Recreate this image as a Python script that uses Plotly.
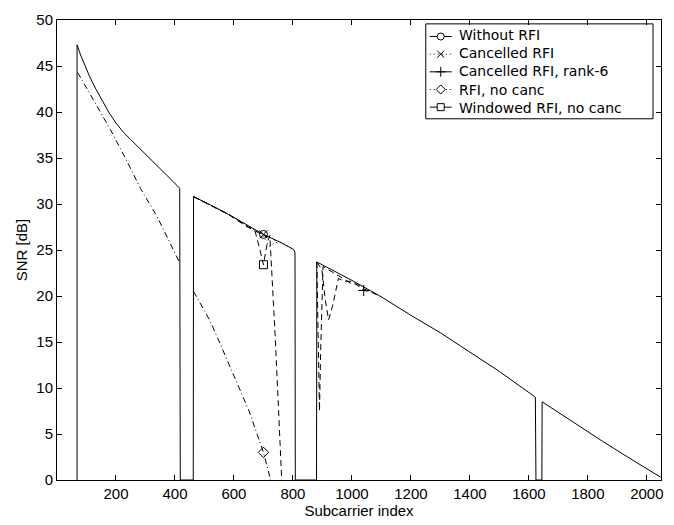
import plotly.graph_objects as go

# ---- data (subcarrier index, SNR dB) ----
x_without = [68, 68, 80, 95, 110, 130, 150, 175, 200, 225, 250, 282, 310, 340, 370, 395, 416, 418,
             462, 463, 520, 580, 640, 700, 760, 803, 807, 808,
             880, 881, 1000, 1100, 1200, 1300, 1400, 1500, 1622, 1624,
             1644, 1645, 1750, 1850, 1950, 2047]
y_without = [0, 47.3, 46.2, 45.0, 43.9, 42.6, 41.4, 40.0, 38.8, 37.8, 37.0, 36.0, 35.1, 34.2, 33.2, 32.4, 31.7, 0,
             0, 30.8, 29.9, 28.9, 27.8, 26.7, 25.8, 25.05, 24.7, 0,
             0, 23.7, 21.7, 19.9, 17.9, 16.0, 13.9, 11.8, 9.0, 0,
             0, 8.5, 6.3, 4.2, 2.2, 0.3]

x_cancelled = [463, 520, 580, 640, 690, 705, 720, 740, 760, 803]
y_cancelled = [30.8, 29.9, 28.9, 27.8, 26.8, 26.2, 25.4, 25.8, 25.8, 25.05]

x_rank6 = [463, 520, 580, 640, 700, 722, 740, 762, 808,
           None, 881, 884, 887, 890, 894, 898, 902, 960, 1000, 1020, 1040, 1060, 1100]
y_rank6 = [30.8, 29.9, 28.9, 27.6, 26.6, 26.4, 15.5, 0, -5,
           None, 23.7, 17.0, 11.0, 7.5, 14.0, 20.0, 23.2, 22.1, 21.3, 21.3, 20.6, 20.5, 19.9]

x_rfi = [70, 125, 181, 238, 283, 340, 413, None, 463, 519, 560, 600, 650, 700, 722, 740]
y_rfi = [44.3, 41.3, 38.1, 34.6, 31.7, 28.6, 23.8, None, 20.5, 17.3, 14.3, 11.3, 7.6, 3.0, 0.3, -3]

x_windowed = [463, 520, 580, 640, 672, 686, 700, 712, 722, 740,
              None, 881, 898, 910, 921, 935, 954, 975, 1000, 1030, 1060]
y_windowed = [30.8, 29.9, 28.9, 27.7, 27.0, 25.3, 23.4, 25.6, 26.6, 26.0,
              None, 23.7, 22.9, 19.5, 17.4, 19.0, 21.9, 21.6, 21.6, 20.9, 20.5]

# one marker per series
mk_x = {"without": 700, "cancelled": 700, "rank6": 1040, "rfi": 700, "windowed": 700}
mk_y = {"without": 26.7, "cancelled": 26.7, "rank6": 20.6, "rfi": 3.0, "windowed": 23.4}

names = ["Without RFI", "Cancelled RFI", "Cancelled RFI, rank-6", "RFI, no canc", "Windowed RFI, no canc"]
keys = ["without", "cancelled", "rank6", "rfi", "windowed"]
dashes = ["solid", "1px,3px", "6px,4px", "6px,3px,1px,3px", "6px,4px"]
legend_dashes = ["solid", "1px,3px", "solid", "1px,3px", "solid"]
data_symbols = ["circle-open", "x-thin-open", "cross-thin-open", "diamond-open", "square-open"]
legend_symbols = ["circle", "x-thin", "cross-thin", "diamond", "square"]
series = {
    "without": (x_without, y_without),
    "cancelled": (x_cancelled, y_cancelled),
    "rank6": (x_rank6, y_rank6),
    "rfi": (x_rfi, y_rfi),
    "windowed": (x_windowed, y_windowed),
}

FONT = "Liberation Sans"
LEG_FONT = "DejaVu Sans"
LEG_SIZE = 14
black = "#000000"
fig = go.Figure()
for k, nm, ds, sy in zip(keys, names, dashes, data_symbols):
    xs, ys = series[k]
    fig.add_trace(go.Scatter(x=xs, y=ys, mode="lines", name=nm, showlegend=False,
                             line=dict(color=black, width=1, dash=ds), hoverinfo="skip"))
    fig.add_trace(go.Scatter(x=[mk_x[k]], y=[mk_y[k]], mode="markers", showlegend=False,
                             marker=dict(symbol=sy, size=8, color=black,
                                         line=dict(color=black, width=1)), cliponaxis=False))

# ---- compact MATLAB-style legend drawn on an overlay pixel axis ----
ROW_STEP = LEG_SIZE * 1.3
ROW0 = 30
L_LEFT, L_RIGHT, L_TOP = 427, 655, 17
L_BOTTOM = ROW0 + 4 * ROW_STEP + 12
SAMPLE_X0, SAMPLE_X1, TEXT_X = 431, 453, 459
fig.add_shape(type="rect", xref="x2", yref="y2", x0=L_LEFT, x1=L_RIGHT, y0=L_TOP, y1=L_BOTTOM,
              line=dict(color=black, width=1), fillcolor="white", layer="below")
for i, (ds, sy) in enumerate(zip(legend_dashes, legend_symbols)):
    ry = ROW0 + i * ROW_STEP
    fig.add_trace(go.Scatter(x=[SAMPLE_X0, SAMPLE_X1], y=[ry, ry], xaxis="x2", yaxis="y2",
                             mode="lines", showlegend=False, hoverinfo="skip",
                             line=dict(color=black, width=1, dash=ds)))
    fig.add_trace(go.Scatter(x=[(SAMPLE_X0 + SAMPLE_X1) / 2], y=[ry], xaxis="x2", yaxis="y2",
                             mode="markers", showlegend=False, hoverinfo="skip", cliponaxis=False,
                             marker=dict(symbol=sy, size=7, color="white",
                                         line=dict(color=black, width=1))))
fig.add_annotation(x=TEXT_X, y=ROW0 + 2 * ROW_STEP, xref="x2", yref="y2",
                   text="<br>".join(names), showarrow=False, align="left",
                   xanchor="left", yanchor="middle", borderpad=0,
                   font=dict(family=LEG_FONT, size=LEG_SIZE, color=black))

axis_common = dict(showline=True, linecolor=black, linewidth=1, mirror="ticks",
                   ticks="inside", ticklen=5, tickcolor=black, showgrid=False, zeroline=False,
                   tickfont=dict(family=FONT, size=15, color=black))

fig.update_layout(
    width=674, height=525,
    margin=dict(l=57, r=11, t=13, b=38),
    paper_bgcolor="white", plot_bgcolor="white",
    font=dict(family=FONT, size=15, color=black),
    xaxis=dict(range=[0, 2048], tickvals=[200, 400, 600, 800, 1000, 1200, 1400, 1600, 1800, 2000],
               title=dict(text="Subcarrier index", standoff=1, font=dict(size=15)), **axis_common),
    yaxis=dict(range=[0, 50], tickvals=list(range(0, 51, 5)),
               title=dict(text="SNR [dB]", standoff=5, font=dict(size=15)), **axis_common),
    xaxis2=dict(overlaying="x", range=[57, 663], visible=False, fixedrange=True),
    yaxis2=dict(overlaying="y", range=[487, 13], visible=False, fixedrange=True),
    showlegend=False,
)

fig.write_html("out.html")
